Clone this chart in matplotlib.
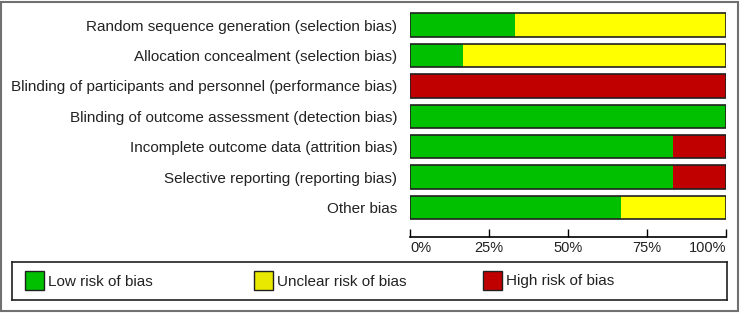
import matplotlib.pyplot as plt
import matplotlib.patches as mpatches
import numpy as np

plt.rcParams['font.family'] = ['Liberation Sans', 'DejaVu Sans']

# risk of bias domains and percentages (6 studies)
domains = [
    "Random sequence generation (selection bias)",
    "Allocation concealment (selection bias)",
    "Blinding of participants and personnel (performance bias)",
    "Blinding of outcome assessment (detection bias)",
    "Incomplete outcome data (attrition bias)",
    "Selective reporting (reporting bias)",
    "Other bias",
]
low_risk = [33.3, 16.7, 0.0, 100.0, 83.3, 83.3, 66.7]
unclear_risk = [66.7, 83.3, 0.0, 0.0, 0.0, 0.0, 33.3]
high_risk = [0.0, 0.0, 100.0, 0.0, 16.7, 16.7, 0.0]
tick_vals = [0, 25, 50, 75, 100]
tick_labels = ["0%", "25%", "50%", "75%", "100%"]
legend_labels = ["Low risk of bias", "Unclear risk of bias", "High risk of bias"]

GREEN = "#00C000"
YELLOW = "#FFFF00"
RED = "#C00000"
TXT = "#222222"

W, H = 740, 314
fig = plt.figure(figsize=(W / 100, H / 100), dpi=100)


def px_axes(x0, y0, x1, y1):
    # pixel box (top-left origin) -> figure axes
    return fig.add_axes([x0 / W, 1 - y1 / H, (x1 - x0) / W, (y1 - y0) / H])


# outer frame
fig.patches.append(mpatches.Rectangle((1 / W, 3 / H), (W - 3) / W, (H - 5) / H,
                                      transform=fig.transFigure, fill=False,
                                      edgecolor="#707070", linewidth=1.5))

# main bars
ax = px_axes(410, 10, 726, 237)
y = np.arange(len(domains))
h = 0.77
low = np.array(low_risk)
unc = np.array(unclear_risk)
high = np.array(high_risk)
ax.barh(y, low, height=h, color=GREEN, linewidth=0)
ax.barh(y, unc, left=low, height=h, color=YELLOW, linewidth=0)
ax.barh(y, high, left=low + unc, height=h, color=RED, linewidth=0)
ax.barh(y, low + unc + high, height=h, fill=False, edgecolor="#202020", linewidth=1.2)

ax.set_xlim(0, 100)
ax.set_ylim(len(domains) - 0.03, -0.5)
for s in ["top", "right", "left"]:
    ax.spines[s].set_visible(False)
ax.spines["bottom"].set_linewidth(1.2)
ax.set_yticks(y)
ax.set_yticklabels(domains, fontsize=11, color=TXT)
ax.tick_params(axis="y", length=0, pad=9)
ax.set_xticks(tick_vals)
ax.set_xticklabels(tick_labels, fontsize=10.5, color=TXT)
ax.tick_params(axis="x", direction="in", length=6, width=1, pad=3)
xt = ax.get_xticklabels()
xt[0].set_ha("left")
xt[-1].set_ha("right")
ax.patch.set_alpha(0)

# legend box
lax = px_axes(12, 262, 727, 300)
lax.set_xlim(12, 727)
lax.set_ylim(300, 262)
lax.set_xticks([])
lax.set_yticks([])
for s in lax.spines.values():
    s.set_linewidth(1.2)
    s.set_color("#202020")
legend_colors = [GREEN, "#E8E800", RED]
legend_x = [25, 254, 483]
for lx, lc, lt in zip(legend_x, legend_colors, legend_labels):
    lax.add_patch(mpatches.Rectangle((lx, 271), 19, 19, facecolor=lc,
                                     edgecolor="#202020", linewidth=1))
    lax.text(lx + 23, 281.5, lt, fontsize=11, va="center", ha="left", color=TXT)

fig.savefig("out.png", dpi=100)
